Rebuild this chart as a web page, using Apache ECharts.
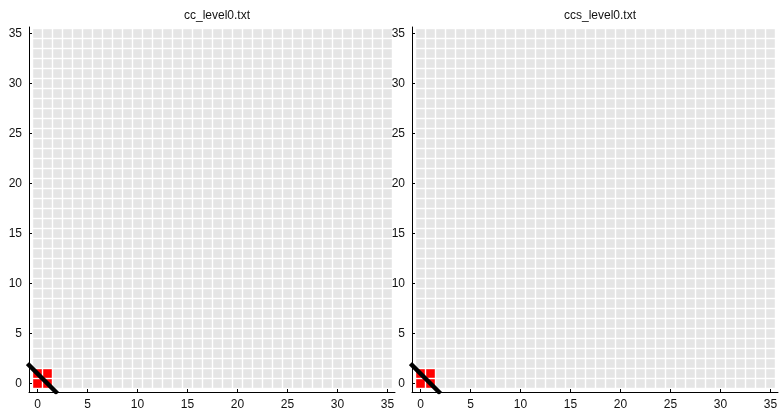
<!DOCTYPE html>
<html>
<head>
<meta charset="utf-8">
<script src="https://cdn.jsdelivr.net/npm/echarts@6/dist/echarts.min.js"></script>
<style>html,body{margin:0;padding:0;background:#fff}#c{width:784px;height:411px}</style>
</head>
<body>
<div id="c"></div>
<script>
// ---- data ----
const panelTitles = ['cc_level0.txt', 'ccs_level0.txt'];
const gridCols = 36;               // cells 0..35 along x
const gridRows = 36;               // cells 0..35 along y
const redCellsX = [0, 1, 0, 1];    // highlighted cells (same in both panels)
const redCellsY = [0, 0, 1, 1];
const lineX = [-1, 2];             // black boundary line
const lineY = [2, -1];
const tickValues = [0, 5, 10, 15, 20, 25, 30, 35];

// ---- build ----
const chart = echarts.init(document.getElementById('c'), null, {renderer: 'canvas'});
const font = 'Liberation Sans, Arial, sans-serif';

function cellData() {
  const redSet = new Set(redCellsX.map((x, i) => x + ',' + redCellsY[i]));
  const d = [];
  for (let x = 0; x < gridCols; x++)
    for (let y = 0; y < gridRows; y++)
      d.push([x, y, redSet.has(x + ',' + y) ? 1 : 0]);
  return d;
}
const cells = cellData();

const gridLefts = [29, 412];
const grids = [], xAxes = [], yAxes = [], series = [], titles = [];
gridLefts.forEach((left, i) => {
  grids.push({left: left, top: 27, width: 366, height: 365, containLabel: false});
  titles.push({text: panelTitles[i], left: left + 183, top: 5, textAlign: 'center',
    textStyle: {fontFamily: font, fontSize: 12, fontWeight: 'normal', color: '#111'}});
  const axisCommon = {
    type: 'value', gridIndex: i, z: 10,
    axisLine: {show: true, onZero: false, lineStyle: {color: '#000', width: 1}},
    axisTick: {show: true, inside: true, length: 3, lineStyle: {color: '#000'}, customValues: tickValues},
    axisLabel: {fontFamily: font, fontSize: 12, color: '#111', customValues: tickValues, margin: 7},
    splitLine: {show: false}
  };
  xAxes.push(Object.assign({}, axisCommon, {min: -0.85, max: 35.75}));
  yAxes.push(Object.assign({}, axisCommon, {min: -0.85, max: 35.65}));
  series.push({
    type: 'custom', xAxisIndex: i, yAxisIndex: i, clip: true,
    data: cells,
    renderItem: function (params, api) {
      const x = api.value(0), y = api.value(1), v = api.value(2);
      const p0 = api.coord([x - 0.43, y + 0.43]);
      const p1 = api.coord([x + 0.43, y - 0.43]);
      return {type: 'rect', shape: {x: p0[0], y: p0[1], width: p1[0] - p0[0], height: p1[1] - p0[1]},
        style: {fill: v ? '#ff0000' : '#e5e5e5'}};
    },
    silent: true, animation: false
  });
  series.push({
    type: 'line', xAxisIndex: i, yAxisIndex: i, clip: true,
    data: lineX.map((x, k) => [x, lineY[k]]),
    symbol: 'none', lineStyle: {color: '#000', width: 4.5},
    silent: true, animation: false, z: 5
  });
});

chart.setOption({
  animation: false,
  title: titles,
  grid: grids,
  xAxis: xAxes,
  yAxis: yAxes,
  series: series
});
</script>
</body>
</html>
